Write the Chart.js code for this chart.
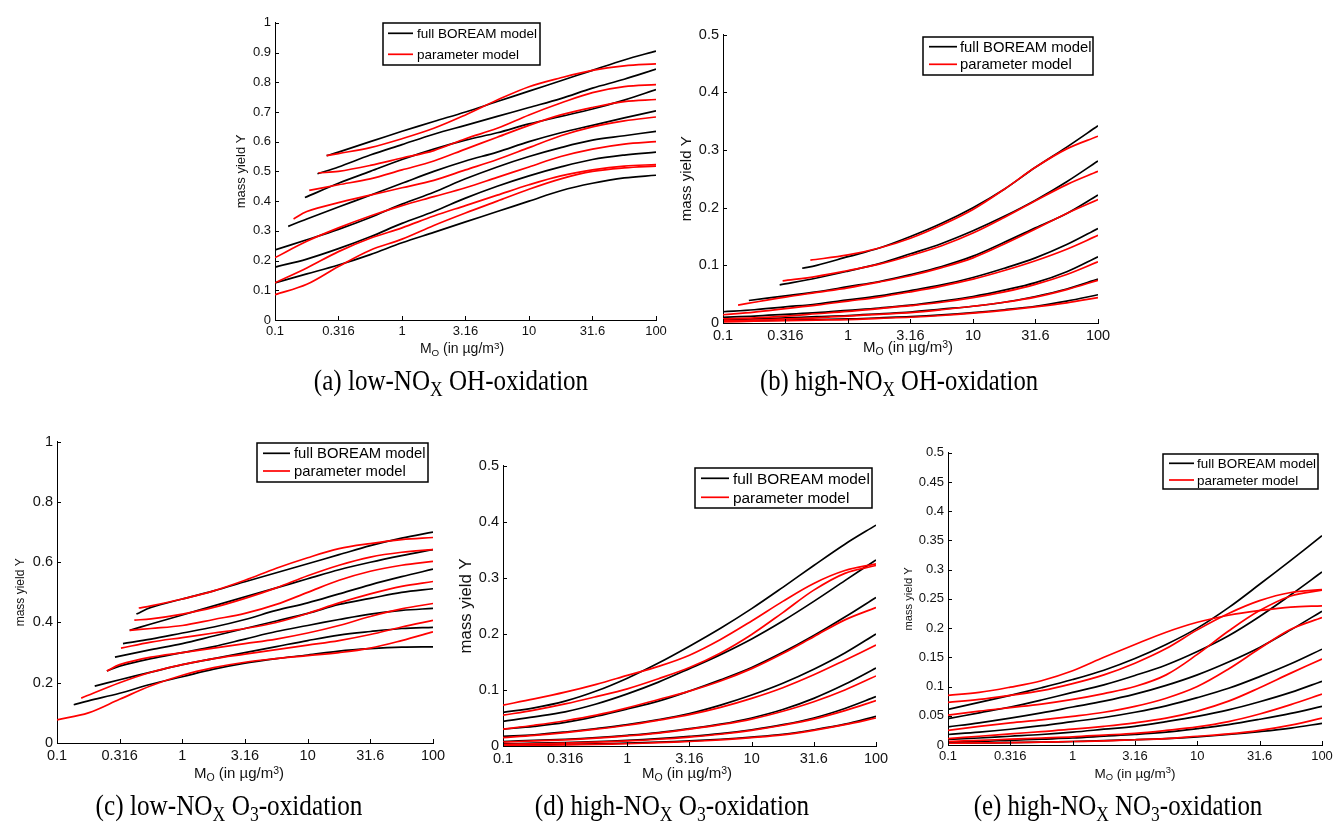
<!DOCTYPE html>
<html>
<head>
<meta charset="utf-8">
<script src="https://cdn.jsdelivr.net/npm/chart.js@4.4.1/dist/chart.umd.min.js"></script>
<style>
  body { margin: 0; background: #fff; width: 1334px; height: 822px; position: relative; overflow: hidden; }
  canvas { position: absolute; }
  .xt { position: absolute; font-family: "Liberation Sans", Arial, sans-serif; white-space: nowrap; line-height: 1; color: #111; }
  .cap { position: absolute; font-family: "Liberation Serif", "Times New Roman", serif; white-space: nowrap; line-height: 1; font-size: 29px; color: #000; }
  .lo { position: relative; top: 0.3em; font-size: 0.7em; }
  .hi { position: relative; top: -0.45em; font-size: 0.7em; }
</style>
</head>
<body>
<script>
// M_O grid (in ug/m3). Every curve starts at its own M_O value and then
// follows the grid points that lie beyond 1.2 x that start.
const MO_GRID = [0.1, 0.178, 0.316, 0.562, 1, 1.78, 3.16, 5.62, 10, 17.8, 31.6, 56.2, 100];
const X_TICKS = [0.1, 0.316, 1, 3.16, 10, 31.6, 100];
const Y_TICKS_A = [0, 0.1, 0.2, 0.3, 0.4, 0.5, 0.6, 0.7, 0.8, 0.9, 1];
const Y_TICKS_C = [0, 0.2, 0.4, 0.6, 0.8, 1];
const Y_TICKS_HALF = [0, 0.1, 0.2, 0.3, 0.4, 0.5];
const Y_TICKS_E = [0, 0.05, 0.1, 0.15, 0.2, 0.25, 0.3, 0.35, 0.4, 0.45, 0.5];
const LEGEND_LABELS = ['full BOREAM model', 'parameter model'];

// (a) low-NOx OH-oxidation
const aBlackStart = [0.255, 0.216, 0.172, 0.127, 0.1, 0.1, 0.1];
const aBlack = [
  [0.553, 0.565, 0.60, 0.635, 0.668, 0.70, 0.735, 0.77, 0.805, 0.84, 0.875, 0.905],
  [0.492, 0.515, 0.555, 0.59, 0.625, 0.655, 0.685, 0.715, 0.745, 0.78, 0.81, 0.844],
  [0.412, 0.46, 0.50, 0.54, 0.575, 0.605, 0.63, 0.66, 0.685, 0.71, 0.74, 0.775],
  [0.315, 0.34, 0.38, 0.42, 0.46, 0.50, 0.535, 0.565, 0.60, 0.63, 0.655, 0.68, 0.704],
  [0.236, 0.27, 0.305, 0.345, 0.39, 0.43, 0.475, 0.515, 0.55, 0.58, 0.605, 0.62, 0.635],
  [0.178, 0.205, 0.24, 0.28, 0.325, 0.365, 0.41, 0.45, 0.485, 0.515, 0.54, 0.555, 0.565],
  [0.125, 0.155, 0.185, 0.22, 0.26, 0.295, 0.33, 0.365, 0.40, 0.435, 0.46, 0.478, 0.487]
];
const aRedStart = [0.255, 0.22, 0.186, 0.14, 0.1, 0.1, 0.1];
const aRed = [
  [0.553, 0.56, 0.58, 0.61, 0.645, 0.69, 0.74, 0.785, 0.815, 0.84, 0.855, 0.862],
  [0.495, 0.50, 0.52, 0.545, 0.57, 0.61, 0.645, 0.69, 0.73, 0.765, 0.785, 0.792],
  [0.436, 0.455, 0.475, 0.505, 0.535, 0.575, 0.615, 0.655, 0.69, 0.715, 0.735, 0.742],
  [0.34, 0.365, 0.395, 0.42, 0.445, 0.47, 0.505, 0.54, 0.58, 0.62, 0.65, 0.67, 0.683],
  [0.21, 0.265, 0.31, 0.35, 0.385, 0.415, 0.445, 0.48, 0.515, 0.55, 0.575, 0.592, 0.60],
  [0.125, 0.175, 0.23, 0.275, 0.31, 0.35, 0.385, 0.42, 0.455, 0.485, 0.505, 0.518, 0.523],
  [0.085, 0.12, 0.18, 0.235, 0.272, 0.318, 0.36, 0.40, 0.44, 0.475, 0.50, 0.512, 0.518]
];

// (b) high-NOx OH-oxidation
const bBlackStart = [0.43, 0.284, 0.161, 0.1, 0.1, 0.1, 0.1];
const bBlack = [
  [0.095, 0.10, 0.115, 0.13, 0.15, 0.173, 0.20, 0.232, 0.27, 0.305, 0.342],
  [0.066, 0.078, 0.09, 0.103, 0.12, 0.138, 0.16, 0.185, 0.213, 0.245, 0.281],
  [0.039, 0.047, 0.054, 0.063, 0.072, 0.084, 0.098, 0.116, 0.14, 0.165, 0.19, 0.222],
  [0.0195, 0.023, 0.028, 0.033, 0.04, 0.047, 0.056, 0.066, 0.079, 0.095, 0.113, 0.136, 0.164],
  [0.010, 0.012, 0.015, 0.018, 0.022, 0.026, 0.031, 0.038, 0.046, 0.057, 0.07, 0.089, 0.115],
  [0.006, 0.007, 0.009, 0.011, 0.013, 0.016, 0.019, 0.024, 0.029, 0.036, 0.046, 0.059, 0.076],
  [0.003, 0.004, 0.005, 0.006, 0.007, 0.009, 0.011, 0.014, 0.018, 0.023, 0.029, 0.038, 0.049]
];
const bRedStart = [0.5, 0.30, 0.132, 0.1, 0.1, 0.1, 0.1];
const bRed = [
  [0.109, 0.118, 0.13, 0.147, 0.17, 0.197, 0.232, 0.27, 0.302, 0.324],
  [0.073, 0.081, 0.091, 0.102, 0.117, 0.134, 0.156, 0.183, 0.212, 0.24, 0.263],
  [0.031, 0.036, 0.045, 0.053, 0.061, 0.071, 0.082, 0.096, 0.113, 0.137, 0.163, 0.19, 0.214],
  [0.0143, 0.019, 0.025, 0.031, 0.038, 0.045, 0.054, 0.064, 0.076, 0.091, 0.108, 0.128, 0.152],
  [0.007, 0.009, 0.012, 0.016, 0.02, 0.025, 0.03, 0.036, 0.044, 0.054, 0.067, 0.084, 0.106],
  [0.004, 0.005, 0.007, 0.009, 0.012, 0.015, 0.018, 0.023, 0.029, 0.036, 0.045, 0.058, 0.074],
  [0.002, 0.003, 0.004, 0.005, 0.006, 0.008, 0.010, 0.013, 0.017, 0.022, 0.028, 0.035, 0.044]
];

// (c) low-NOx O3-oxidation
const cBlackStart = [0.43, 0.38, 0.336, 0.29, 0.25, 0.2, 0.136];
const cBlack = [
  [0.428, 0.45, 0.478, 0.505, 0.535, 0.565, 0.595, 0.625, 0.655, 0.68, 0.70],
  [0.374, 0.395, 0.425, 0.455, 0.485, 0.515, 0.545, 0.575, 0.60, 0.622, 0.642],
  [0.33, 0.345, 0.365, 0.385, 0.41, 0.44, 0.465, 0.495, 0.525, 0.552, 0.577],
  [0.285, 0.31, 0.33, 0.355, 0.38, 0.405, 0.43, 0.46, 0.48, 0.50, 0.512],
  [0.239, 0.255, 0.28, 0.30, 0.32, 0.345, 0.37, 0.39, 0.41, 0.428, 0.44, 0.447],
  [0.189, 0.21, 0.235, 0.26, 0.28, 0.30, 0.32, 0.34, 0.358, 0.37, 0.38, 0.384],
  [0.127, 0.14, 0.165, 0.195, 0.22, 0.245, 0.265, 0.28, 0.292, 0.305, 0.313, 0.318, 0.319]
];
const cRedStart = [0.449, 0.414, 0.38, 0.324, 0.25, 0.156, 0.1];
const cRed = [
  [0.448, 0.455, 0.478, 0.505, 0.54, 0.58, 0.615, 0.645, 0.662, 0.675, 0.682],
  [0.408, 0.412, 0.428, 0.45, 0.48, 0.515, 0.555, 0.59, 0.617, 0.633, 0.642],
  [0.374, 0.38, 0.39, 0.41, 0.43, 0.46, 0.50, 0.54, 0.57, 0.59, 0.603],
  [0.315, 0.335, 0.35, 0.365, 0.38, 0.40, 0.43, 0.465, 0.495, 0.52, 0.536],
  [0.239, 0.26, 0.285, 0.30, 0.315, 0.33, 0.345, 0.365, 0.39, 0.42, 0.445, 0.463],
  [0.149, 0.20, 0.235, 0.26, 0.28, 0.295, 0.31, 0.325, 0.34, 0.36, 0.385, 0.407],
  [0.077, 0.10, 0.145, 0.19, 0.225, 0.25, 0.268, 0.28, 0.29, 0.30, 0.315, 0.34, 0.369]
];

// (d) high-NOx O3-oxidation
const dBlackStart = [0.1, 0.1, 0.1, 0.1, 0.1, 0.1, 0.1];
const dBlack = [
  [0.060, 0.068, 0.080, 0.098, 0.121, 0.148, 0.178, 0.21, 0.245, 0.283, 0.322, 0.36, 0.394],
  [0.044, 0.052, 0.061, 0.075, 0.093, 0.114, 0.138, 0.163, 0.191, 0.223, 0.258, 0.295, 0.332],
  [0.030, 0.035, 0.042, 0.053, 0.066, 0.08, 0.098, 0.118, 0.14, 0.167, 0.197, 0.23, 0.265],
  [0.017, 0.02, 0.025, 0.031, 0.038, 0.047, 0.058, 0.073, 0.091, 0.112, 0.137, 0.166, 0.20],
  [0.008, 0.01, 0.012, 0.015, 0.019, 0.024, 0.031, 0.039, 0.05, 0.065, 0.085, 0.11, 0.139],
  [0.004, 0.005, 0.006, 0.008, 0.010, 0.013, 0.017, 0.022, 0.029, 0.038, 0.05, 0.067, 0.088],
  [0.002, 0.0025, 0.003, 0.004, 0.005, 0.007, 0.009, 0.012, 0.016, 0.021, 0.029, 0.039, 0.053]
];
const dRedStart = [0.1, 0.1, 0.1, 0.1, 0.1, 0.1, 0.1];
const dRed = [
  [0.073, 0.084, 0.096, 0.11, 0.126, 0.142, 0.162, 0.19, 0.223, 0.258, 0.29, 0.313, 0.325],
  [0.055, 0.064, 0.075, 0.088, 0.102, 0.12, 0.14, 0.166, 0.199, 0.238, 0.278, 0.308, 0.322],
  [0.030, 0.037, 0.045, 0.055, 0.068, 0.083, 0.098, 0.116, 0.138, 0.165, 0.195, 0.225, 0.247],
  [0.015, 0.019, 0.024, 0.030, 0.037, 0.046, 0.056, 0.069, 0.085, 0.104, 0.127, 0.153, 0.18],
  [0.007, 0.009, 0.011, 0.014, 0.018, 0.023, 0.03, 0.038, 0.048, 0.062, 0.079, 0.1, 0.125],
  [0.003, 0.004, 0.005, 0.007, 0.009, 0.012, 0.016, 0.021, 0.028, 0.037, 0.048, 0.063, 0.081],
  [0.001, 0.0015, 0.002, 0.003, 0.004, 0.006, 0.008, 0.011, 0.015, 0.02, 0.028, 0.038, 0.05]
];

// (e) high-NOx NO3-oxidation
const eBlackStart = [0.1, 0.1, 0.1, 0.1, 0.1, 0.1, 0.1];
const eBlack = [
  [0.061, 0.073, 0.085, 0.098, 0.112, 0.128, 0.148, 0.172, 0.20, 0.235, 0.275, 0.316, 0.358],
  [0.045, 0.055, 0.065, 0.077, 0.09, 0.103, 0.119, 0.137, 0.16, 0.187, 0.22, 0.257, 0.296],
  [0.031, 0.038, 0.046, 0.055, 0.065, 0.075, 0.087, 0.102, 0.12, 0.142, 0.167, 0.197, 0.229],
  [0.018, 0.022, 0.027, 0.033, 0.040, 0.047, 0.056, 0.067, 0.081, 0.097, 0.117, 0.139, 0.164],
  [0.0096, 0.012, 0.015, 0.018, 0.022, 0.027, 0.032, 0.04, 0.049, 0.06, 0.074, 0.09, 0.109],
  [0.005, 0.006, 0.008, 0.01, 0.012, 0.015, 0.018, 0.022, 0.028, 0.035, 0.044, 0.054, 0.066],
  [0.003, 0.0035, 0.004, 0.005, 0.006, 0.0075, 0.009, 0.011, 0.014, 0.018, 0.023, 0.029, 0.037]
];
const eRedStart = [0.1, 0.1, 0.1, 0.1, 0.1, 0.1, 0.1];
const eRed = [
  [0.085, 0.09, 0.099, 0.11, 0.127, 0.15, 0.172, 0.193, 0.21, 0.222, 0.23, 0.236, 0.238],
  [0.073, 0.078, 0.085, 0.093, 0.105, 0.12, 0.14, 0.165, 0.197, 0.225, 0.247, 0.261, 0.266],
  [0.051, 0.058, 0.064, 0.07, 0.078, 0.088, 0.1, 0.12, 0.155, 0.195, 0.23, 0.255, 0.265],
  [0.025, 0.032, 0.038, 0.043, 0.049, 0.056, 0.066, 0.08, 0.1, 0.13, 0.165, 0.198, 0.218],
  [0.011, 0.015, 0.019, 0.023, 0.027, 0.032, 0.038, 0.046, 0.058, 0.075, 0.098, 0.123, 0.147],
  [0.006, 0.008, 0.01, 0.012, 0.014, 0.017, 0.02, 0.025, 0.031, 0.04, 0.053, 0.069, 0.087],
  [0.003, 0.0035, 0.004, 0.005, 0.006, 0.007, 0.009, 0.011, 0.015, 0.019, 0.025, 0.034, 0.046]
];

// page layout of the five panels (chart area = [left, top, right, bottom] in page px)
const panels = [
  { area: [275, 21, 656, 320], yw: 45, yMax: 1, yTicks: Y_TICKS_A, tick: 13, yt: 13, ytX: 241.7,
    blackStart: aBlackStart, black: aBlack, redStart: aRedStart, red: aRed,
    legend: { box: [383, 23, 540, 65], line: [388, 413], textX: 417, rows: [33.3, 54.3], size: 13.5 },
    xTitle: { cx: 462, base: 353, size: 14 },
    caption: { cx: 451, base: 390, w: 274, html: '(a) low-NO<span class="lo">X</span> OH-oxidation' } },
  { area: [723, 32, 1098, 323], yw: 48, yMax: 0.5, yTicks: Y_TICKS_HALF, tick: 14.5, yt: 15, ytX: 687,
    blackStart: bBlackStart, black: bBlack, redStart: bRedStart, red: bRed,
    legend: { box: [923, 37, 1093, 75], line: [929, 957], textX: 960, rows: [46.7, 64.3], size: 14.8 },
    xTitle: { cx: 908, base: 352, size: 15 },
    caption: { cx: 899, base: 390, w: 278, html: '(b) high-NO<span class="lo">X</span> OH-oxidation' } },
  { area: [57, 439, 433, 743], yw: 52, yMax: 1, yTicks: Y_TICKS_C, tick: 14.5, yt: 12, ytX: 20.7,
    blackStart: cBlackStart, black: cBlack, redStart: cRedStart, red: cRed,
    legend: { box: [257, 443, 428, 482], line: [263, 290], textX: 294, rows: [453.3, 471], size: 14.8 },
    xTitle: { cx: 239, base: 778, size: 15 },
    caption: { cx: 229, base: 815, w: 267, html: '(c) low-NO<span class="lo">X</span> O<span class="lo">3</span>-oxidation' } },
  { area: [503, 463, 876, 746], yw: 48, yMax: 0.5, yTicks: Y_TICKS_HALF, tick: 14.5, yt: 16.8, ytX: 466,
    blackStart: dBlackStart, black: dBlack, redStart: dRedStart, red: dRed,
    legend: { box: [695, 468, 872, 508], line: [701, 729], textX: 733, rows: [478.3, 497.3], size: 15.4 },
    xTitle: { cx: 687, base: 778, size: 15 },
    caption: { cx: 672, base: 815, w: 274, html: '(d) high-NO<span class="lo">X</span> O<span class="lo">3</span>-oxidation' } },
  { area: [948, 451, 1322, 745], yw: 53, yMax: 0.5, yTicks: Y_TICKS_E, tick: 13, yt: 11.2, ytX: 909,
    blackStart: eBlackStart, black: eBlack, redStart: eRedStart, red: eRed,
    legend: { box: [1163, 454, 1318, 489], line: [1169, 1194], textX: 1197, rows: [463.3, 480], size: 13.4 },
    xTitle: { cx: 1135, base: 778, size: 13.5 },
    caption: { cx: 1118, base: 815, w: 289, html: '(e) high-NO<span class="lo">X</span> NO<span class="lo">3</span>-oxidation' } }
];

const SANS = '"Liberation Sans", Arial, sans-serif';
const PT = 10, PR = 25, XH = 30;

function curve(start, ys, color) {
  const xs = [start].concat(MO_GRID.filter(x => x > start * 1.2));
  if (xs.length !== ys.length) console.warn('length mismatch', start, xs.length, ys.length);
  return {
    data: ys.map((y, i) => ({ x: xs[i], y: y })),
    borderColor: color,
    borderWidth: 1.7,
    pointRadius: 0,
    fill: false,
    tension: 0.35
  };
}

// Matlab-style inward ticks plus the boxed legend
const matlabAxes = {
  id: 'matlabAxes',
  afterDraw(chart, args, opts) {
    const ctx = chart.ctx, ca = chart.chartArea;
    const xs = chart.scales.x, ys = chart.scales.y;
    ctx.save();
    ctx.strokeStyle = '#000';
    ctx.lineWidth = 1;
    ctx.beginPath();
    xs.ticks.forEach(t => {
      const px = Math.round(xs.getPixelForValue(t.value)) + 0.5;
      ctx.moveTo(px, ca.bottom); ctx.lineTo(px, ca.bottom - 4);
    });
    ys.ticks.forEach(t => {
      const py = Math.round(ys.getPixelForValue(t.value)) + 0.5;
      ctx.moveTo(ca.left, py); ctx.lineTo(ca.left + 4, py);
    });
    ctx.stroke();

    const lg = opts.legend, ox = opts.ox, oy = opts.oy;
    ctx.fillStyle = '#fff';
    ctx.fillRect(lg.box[0] - ox, lg.box[1] - oy, lg.box[2] - lg.box[0], lg.box[3] - lg.box[1]);
    ctx.lineWidth = 1.5;
    ctx.strokeStyle = '#000';
    ctx.strokeRect(lg.box[0] - ox, lg.box[1] - oy, lg.box[2] - lg.box[0], lg.box[3] - lg.box[1]);
    ctx.font = lg.size + 'px ' + SANS;
    ctx.textBaseline = 'middle';
    ['#000000', '#ff0000'].forEach((c, i) => {
      const ry = lg.rows[i] - oy;
      ctx.strokeStyle = c;
      ctx.lineWidth = 1.7;
      ctx.beginPath();
      ctx.moveTo(lg.line[0] - ox, ry); ctx.lineTo(lg.line[1] - ox, ry);
      ctx.stroke();
      ctx.fillStyle = '#000';
      ctx.fillText(LEGEND_LABELS[i], lg.textX - ox, ry + 1);
    });
    ctx.restore();
  }
};

panels.forEach(p => {
  const [l, t, r, b] = p.area;
  const ox = l - p.yw, oy = t - PT;
  const W = p.yw + (r - l) + PR, H = PT + (b - t) + XH;
  const cv = document.createElement('canvas');
  cv.width = W; cv.height = H;
  cv.style.left = ox + 'px'; cv.style.top = oy + 'px';
  document.body.appendChild(cv);

  const datasets = [];
  p.red.forEach((ys, i) => datasets.push(curve(p.redStart[i], ys, '#ff0000')));
  p.black.forEach((ys, i) => datasets.push(curve(p.blackStart[i], ys, '#000000')));

  new Chart(cv, {
    type: 'line',
    data: { datasets: datasets },
    options: {
      responsive: false,
      animation: false,
      events: [],
      layout: { padding: { top: PT, right: PR, left: 0, bottom: 0 } },
      plugins: {
        legend: { display: false },
        tooltip: { enabled: false },
        matlabAxes: { legend: p.legend, ox: ox, oy: oy }
      },
      scales: {
        x: {
          type: 'logarithmic',
          min: 0.1, max: 100,
          afterBuildTicks: s => { s.ticks = X_TICKS.map(v => ({ value: v })); },
          afterFit: s => { s.height = XH; },
          grid: { display: false, drawTicks: false },
          border: { display: true, color: '#000', width: 1 },
          ticks: {
            autoSkip: false, maxRotation: 0, padding: 4, color: '#111',
            font: { family: SANS, size: p.tick },
            callback: v => String(v)
          }
        },
        y: {
          min: 0, max: p.yMax,
          afterBuildTicks: s => { s.ticks = p.yTicks.map(v => ({ value: v })); },
          afterFit: s => { s.width = p.yw; },
          grid: { display: false, drawTicks: false },
          border: { display: true, color: '#000', width: 1 },
          ticks: {
            padding: 4, color: '#111',
            font: { family: SANS, size: p.tick },
            callback: v => String(Number(v.toFixed(2)))
          },
          title: {
            display: true, text: 'mass yield Y', color: '#111',
            font: { family: SANS, size: p.yt, lineHeight: 1 },
            padding: { top: (p.ytX - ox) - p.yt / 2, bottom: 0 }
          }
        }
      }
    },
    plugins: [matlabAxes]
  });

  const xt = document.createElement('div');
  xt.className = 'xt';
  xt.style.fontSize = p.xTitle.size + 'px';
  xt.style.top = (p.xTitle.base - 0.85 * p.xTitle.size) + 'px';
  xt.style.left = p.xTitle.cx + 'px';
  xt.style.transform = 'translateX(-50%)';
  xt.innerHTML = 'M<span class="lo">O</span> (in \u00b5g/m<span class="hi">3</span>)';
  document.body.appendChild(xt);

  const cap = document.createElement('div');
  cap.className = 'cap';
  cap.style.top = (p.caption.base - 0.84 * 29) + 'px';
  cap.style.left = p.caption.cx + 'px';
  cap.innerHTML = p.caption.html;
  document.body.appendChild(cap);
  const k = p.caption.w / cap.offsetWidth;
  cap.style.transform = 'translateX(-50%) scaleX(' + k.toFixed(3) + ')';
});
</script>
</body>
</html>
